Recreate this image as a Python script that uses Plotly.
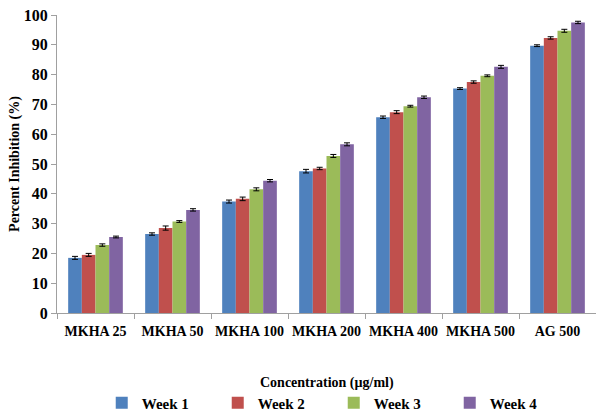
import plotly.graph_objects as go

categories = ["MKHA 25", "MKHA 50", "MKHA 100", "MKHA 200", "MKHA 400", "MKHA 500", "AG 500"]
week1 = [18.5, 26.5, 37.4, 47.6, 65.7, 75.3, 89.7]
week2 = [19.5, 28.5, 38.3, 48.5, 67.4, 77.5, 92.3]
week3 = [22.8, 30.7, 41.5, 52.7, 69.4, 79.6, 94.7]
week4 = [25.5, 34.6, 44.4, 56.6, 72.4, 82.6, 97.5]
err1 = [0.5, 0.4, 0.5, 0.6, 0.4, 0.3, 0.3]
err2 = [0.5, 0.7, 0.6, 0.4, 0.5, 0.4, 0.4]
err3 = [0.4, 0.3, 0.5, 0.5, 0.3, 0.3, 0.5]
err4 = [0.3, 0.4, 0.4, 0.5, 0.4, 0.5, 0.4]
series_names = ["Week 1", "Week 2", "Week 3", "Week 4"]
colors = ["#4F81BD", "#C0504D", "#9BBB59", "#8064A2"]

FONT = "Liberation Serif, Times New Roman, serif"

fig = go.Figure()
for name, vals, errs, col in zip(series_names, [week1, week2, week3, week4],
                                 [err1, err2, err3, err4], colors):
    fig.add_trace(go.Bar(
        x=categories, y=vals, name=name,
        marker=dict(color=col, line=dict(width=0)),
        error_y=dict(type="data", array=errs, color="black", thickness=1, width=3),
    ))

fig.update_layout(
    width=596, height=412,
    margin=dict(l=57, r=0, t=15, b=99, autoexpand=False),
    plot_bgcolor="white", paper_bgcolor="white",
    barmode="group", bargap=0.29, bargroupgap=0,
    font=dict(family=FONT, size=14, color="black"),
    showlegend=True,
    legend=dict(
        orientation="h", x=0.083, xanchor="left",
        yref="container", y=0.022, yanchor="middle",
        entrywidth=71, entrywidthmode="pixels",
        font=dict(family=FONT, size=15, color="black", weight="bold"),
        itemwidth=30, tracegroupgap=0,
    ),
    # x-axis title placed as a paper annotation below the category labels
    annotations=[dict(
        text="Concentration (µg/ml)", xref="paper", yref="paper",
        x=0.5, y=-0.235, xanchor="center", yanchor="middle",
        showarrow=False,
        font=dict(family=FONT, size=14, color="black", weight="bold"),
    )],
)
fig.update_xaxes(
    showline=True, linecolor="#A0A0A0", linewidth=1,
    ticks="outside", tickson="boundaries", ticklen=5, tickcolor="#A0A0A0",
    tickangle=0, ticklabelstandoff=5,
    tickfont=dict(family=FONT, size=14, color="black", weight="bold"),
    showgrid=False,
)
fig.update_yaxes(
    range=[0, 100], dtick=10,
    showline=True, linecolor="#A0A0A0", linewidth=1,
    ticks="outside", ticklen=5, tickcolor="#A0A0A0",
    tickfont=dict(family=FONT, size=16, color="black", weight="bold"),
    title=dict(text="Percent Inhibition (%)", standoff=0,
               font=dict(family=FONT, size=14, color="black", weight="bold")),
    showgrid=False, zeroline=False,
)

fig.write_html("out.html")
